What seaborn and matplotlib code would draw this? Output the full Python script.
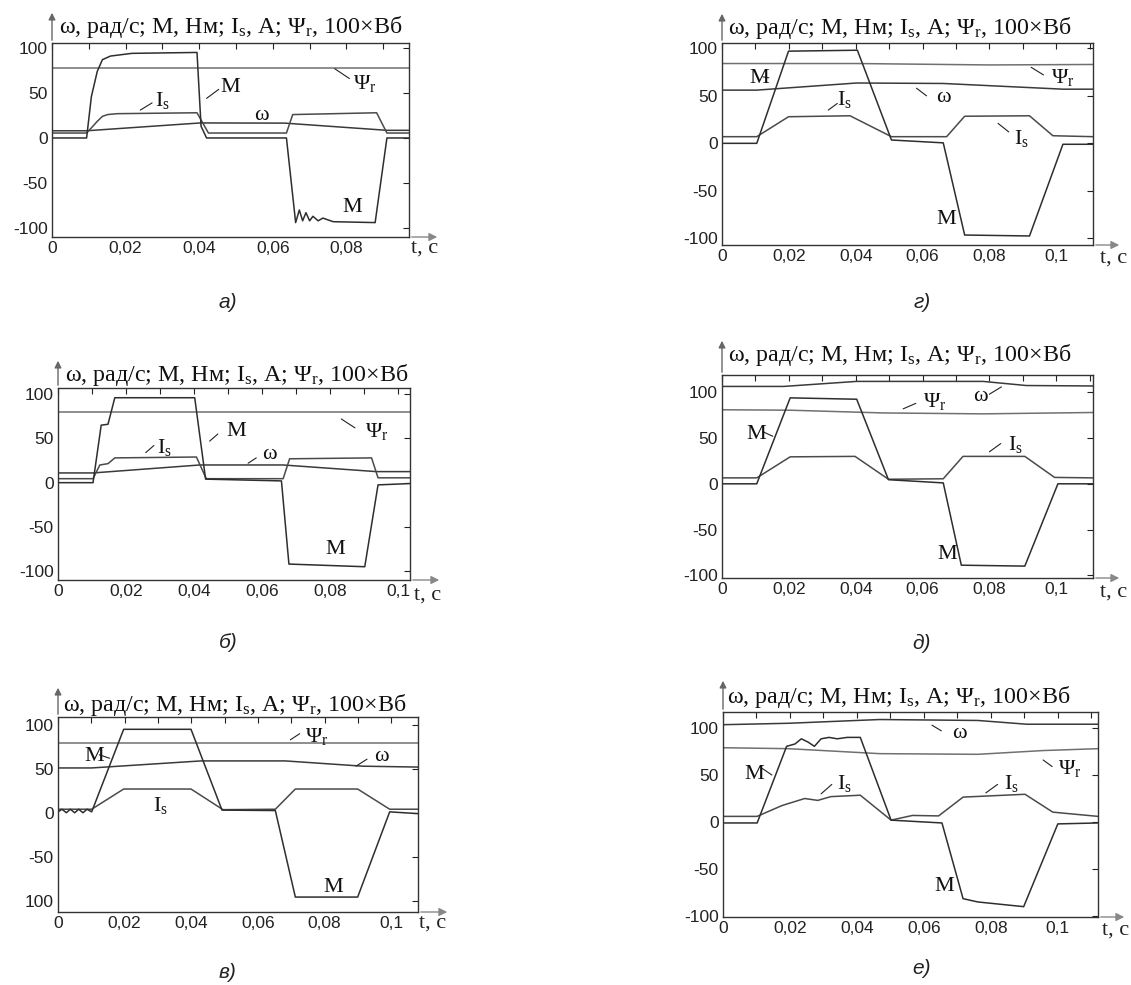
import matplotlib
matplotlib.use("Agg")
import matplotlib.pyplot as plt
from matplotlib.patches import FancyArrowPatch
import seaborn as sns

# ---------------- waveforms: time (s) and value ----------------
# а)
A_T_M = [0, 0.0094, 0.0107, 0.0123, 0.0137, 0.0159, 0.0217, 0.0394, 0.0405, 0.0420, 0.0637, 0.0662,
         0.0672, 0.0681, 0.0690, 0.0700, 0.0709, 0.0723, 0.0736, 0.0764, 0.0878, 0.0910, 0.0970]
A_M = [0, 0, 46, 74, 87, 91, 94, 95, 13, 0, 0, -94, -80, -92, -83, -92, -87, -92, -89, -93, -94, 0, 0]
A_T_IS = [0, 0.0094, 0.0111, 0.0123, 0.0137, 0.0151, 0.0178, 0.0394, 0.0425, 0.0637, 0.0654, 0.0882, 0.0910, 0.0970]
A_IS = [5.5, 5.5, 13, 18.5, 24, 26, 27, 28, 5.5, 5.5, 26, 28, 5.5, 5.5]
A_T_W = [0, 0.0094, 0.0403, 0.0632, 0.0910, 0.0970]
A_W = [8, 8, 16.7, 16.5, 8.5, 8.5]
A_T_PSI = [0, 0.0970]
A_PSI = [78, 78]

# г)
G_T_M = [0, 0.0104, 0.0199, 0.0405, 0.0507, 0.0662, 0.0726, 0.0920, 0.1020, 0.1110]
G_M = [0, 0, 97, 98, 3.5, 0.5, -96.5, -97.5, -1, -1]
G_T_IS = [0, 0.0104, 0.0199, 0.0383, 0.0507, 0.0672, 0.0726, 0.0920, 0.0990, 0.1110]
G_IS = [7, 7, 28, 29, 7, 7, 28.5, 29, 8, 7]
G_T_W = [0, 0.0104, 0.0403, 0.0662, 0.1020, 0.1110]
G_W = [56, 56, 63.5, 63, 57, 57]
G_T_PSI = [0, 0.0400, 0.0800, 0.1110]
G_PSI = [84, 84, 82.5, 83]

# б)
B_T_M = [0, 0.0103, 0.0127, 0.0147, 0.0167, 0.0402, 0.0434, 0.0657, 0.0679, 0.0902, 0.0941, 0.1035]
B_M = [0, 0, 65, 66, 96, 96, 4, 2, -92, -95, -2.5, -1]
B_T_IS = [0, 0.0103, 0.0123, 0.0147, 0.0167, 0.0407, 0.0436, 0.0662, 0.0681, 0.0922, 0.0941, 0.1035]
B_IS = [4.5, 4.5, 20, 21.5, 28, 29, 4.5, 4.5, 27, 28, 5.5, 5.5]
B_T_W = [0, 0.0103, 0.0417, 0.0662, 0.0936, 0.1035]
B_W = [11, 11, 20, 20, 12.5, 12.5]
B_T_PSI = [0, 0.1035]
B_PSI = [80, 80]

# д)
D_T_M = [0, 0.0104, 0.0204, 0.0403, 0.0498, 0.0662, 0.0716, 0.0906, 0.1005, 0.1110]
D_M = [0, 0, 94, 92.5, 4.5, 1, -89, -90, 0, 0]
D_T_IS = [0, 0.0104, 0.0204, 0.0398, 0.0498, 0.0662, 0.0721, 0.0906, 0.0995, 0.1110]
D_IS = [6.5, 6.5, 29.5, 30, 5, 5.5, 30, 30, 7, 6.5]
D_T_W = [0, 0.0184, 0.0403, 0.0781, 0.0910, 0.1110]
D_W = [106.5, 106.5, 112, 112, 107.5, 107]
D_T_PSI = [0, 0.0204, 0.0483, 0.0781, 0.1110]
D_PSI = [81, 80.5, 77.5, 76.5, 78]

# в)
V_T_M = [0, 0.0012, 0.0025, 0.0037, 0.0050, 0.0062, 0.0075, 0.0087, 0.0101, 0.0197, 0.0399,
         0.0492, 0.0652, 0.0712, 0.0899, 0.0995, 0.1080]
V_M = [1, 4, 0, 4, 0, 4, 0, 4, 1, 95, 95, 3, 2.5, -96, -96, 1, -1]
V_T_IS = [0, 0.0101, 0.0197, 0.0399, 0.0495, 0.0652, 0.0712, 0.0899, 0.0995, 0.1080]
V_IS = [4, 4, 27, 27, 3.5, 4, 27, 27, 4, 4]
V_T_W = [0, 0.0101, 0.0429, 0.0682, 0.0914, 0.1080]
V_W = [51, 51, 59, 59, 53, 52]
V_T_PSI = [0, 0.1080]
V_PSI = [79, 79]

# е)
E_T_M = [0, 0.0102, 0.0190, 0.0215, 0.0234, 0.0254, 0.0273, 0.0293, 0.0317, 0.0341, 0.0371, 0.0410,
         0.0502, 0.0654, 0.0717, 0.0761, 0.0898, 0.1000, 0.1120]
E_M = [-1, -1, 80.5, 83, 88.5, 85, 80.5, 88.5, 90, 88.5, 90, 90, 2, -1, -81.5, -85, -90, -2, -1]
E_T_IS = [0, 0.0102, 0.0176, 0.0244, 0.0283, 0.0322, 0.0410, 0.0502, 0.0566, 0.0644, 0.0717, 0.0902, 0.0985, 0.1120]
E_IS = [6, 6, 17.5, 25, 23, 27, 28.5, 2, 7, 6.5, 26.5, 29.5, 10.5, 6]
E_T_W = [0, 0.0195, 0.0468, 0.0761, 0.0907, 0.1120]
E_W = [103.5, 105, 109, 108, 104, 104]
E_T_PSI = [0, 0.0195, 0.0468, 0.0761, 0.0956, 0.1120]
E_PSI = [79, 78, 72.7, 72, 76, 78]

Y_TICKS = [-100, -50, 0, 50, 100]
Y_LABELS = ["-100", "-50", "0", "50", "100"]
Y_LABELS_V = ["100", "-50", "0", "50", "100"]
X_TICKS_SHORT = [0, 0.02, 0.04, 0.06, 0.08]
X_TICKS_LONG = [0, 0.02, 0.04, 0.06, 0.08, 0.1]
X_LABELS_SHORT = ["0", "0,02", "0,04", "0,06", "0,08"]
X_LABELS_LONG = ["0", "0,02", "0,04", "0,06", "0,08", "0,1"]
X_MINOR = [0.01, 0.03, 0.05, 0.07, 0.09, 0.11]

# ---------------- style ----------------
sns.set_theme(style="white")
plt.rcParams["font.family"] = ["Liberation Sans", "DejaVu Sans"]
plt.rcParams["mathtext.fontset"] = "custom"
plt.rcParams["mathtext.rm"] = "Liberation Serif"
plt.rcParams["mathtext.it"] = "Liberation Serif:italic"
plt.rcParams["mathtext.bf"] = "Liberation Serif:bold"

SERIF = ["Liberation Serif", "DejaVu Serif"]
IS = r"$\mathrm{I}_\mathrm{s}$"
PSI = r"$\Psi_\mathrm{r}$"
TITLE = "ω, рад/с; M, Нм; " + IS + ", A; " + PSI + ", 100×Вб"

W, H = 1131, 985
fig = plt.figure(figsize=(W / 100, H / 100), dpi=100)
fig.patch.set_facecolor("white")


def px(x, y):
    return x / W, 1 - y / H


C_M, C_IS, C_W, C_PSI = "#2e2e2e", "#4a4a4a", "#3a3a3a", "#707070"

panels = [
    dict(box=(52, 43, 409, 237), xlim=0.097, ylim=(-110, 105.5), xt=X_TICKS_SHORT, xl=X_LABELS_SHORT,
         yl=Y_LABELS, title=(59, 27), arrow_top=10, xarrow=440, tc=(425, 248), cap=("а)", 228, 303),
         series=[(A_T_PSI, A_PSI, C_PSI), (A_T_W, A_W, C_W), (A_T_IS, A_IS, C_IS), (A_T_M, A_M, C_M)],
         labels=[(PSI, 0.0818, 60, (0.0768, 77), (0.0808, 66)),
                 ("M", 0.0458, 56, (0.0420, 44), (0.0453, 54)),
                 (IS, 0.0280, 42, (0.0240, 31), (0.0272, 39)),
                 ("ω", 0.0548, 25, None, None),
                 ("M", 0.0790, -77, None, None)]),
    dict(box=(722, 43, 1093, 245), xlim=0.111, ylim=(-107, 105.6), xt=X_TICKS_LONG, xl=X_LABELS_LONG,
         yl=Y_LABELS, title=(728, 28), arrow_top=11, xarrow=1122, tc=(1114, 258), cap=("г)", 922, 303),
         series=[(G_T_PSI, G_PSI, C_PSI), (G_T_W, G_W, C_W), (G_T_IS, G_IS, C_IS), (G_T_M, G_M, C_M)],
         labels=[("M", 0.0082, 68, (0.0122, 70), (0.0140, 69)),
                 (PSI, 0.0985, 69, (0.0925, 80), (0.0962, 72)),
                 ("ω", 0.0640, 48, (0.0582, 58), (0.0612, 50)),
                 (IS, 0.0345, 46, (0.0318, 35), (0.0345, 42)),
                 (IS, 0.0875, 5, (0.0826, 21), (0.0858, 12)),
                 ("M", 0.0640, -80, None, None)]),
    dict(box=(58, 388, 410, 580), xlim=0.1035, ylim=(-110, 107), xt=X_TICKS_LONG, xl=X_LABELS_LONG,
         yl=Y_LABELS, title=(65, 375), arrow_top=358, xarrow=442, tc=(428, 595), cap=("б)", 228, 643),
         series=[(B_T_PSI, B_PSI, C_PSI), (B_T_W, B_W, C_W), (B_T_IS, B_IS, C_IS), (B_T_M, B_M, C_M)],
         labels=[(PSI, 0.0903, 58, (0.0833, 72), (0.0873, 62)),
                 ("M", 0.0495, 58, (0.0446, 47), (0.0470, 55)),
                 (IS, 0.0290, 40, (0.0258, 34), (0.0282, 42)),
                 ("ω", 0.0600, 32, (0.0559, 22), (0.0583, 28)),
                 ("M", 0.0785, -75, None, None)]),
    dict(box=(722, 375, 1093, 578), xlim=0.111, ylim=(-103, 119), xt=X_TICKS_LONG, xl=X_LABELS_LONG,
         yl=Y_LABELS, title=(728, 355), arrow_top=338, xarrow=1122, tc=(1114, 592), cap=("д)", 922, 643),
         series=[(D_T_PSI, D_PSI, C_PSI), (D_T_W, D_W, C_W), (D_T_IS, D_IS, C_IS), (D_T_M, D_M, C_M)],
         labels=[(PSI, 0.0600, 90, (0.0542, 82), (0.0580, 88)),
                 ("ω", 0.0752, 96, (0.0800, 98), (0.0836, 106)),
                 ("M", 0.0072, 54, (0.0122, 57), (0.0152, 52)),
                 (IS, 0.0857, 43, (0.0800, 35), (0.0834, 44)),
                 ("M", 0.0645, -77, None, None)]),
    dict(box=(58, 717, 418, 912), xlim=0.108, ylim=(-113, 109), xt=X_TICKS_LONG, xl=X_LABELS_LONG,
         yl=Y_LABELS_V, title=(63, 705), arrow_top=685, xarrow=450, tc=(433, 923), cap=("в)", 228, 972),
         series=[(V_T_PSI, V_PSI, C_PSI), (V_T_W, V_W, C_W), (V_T_IS, V_IS, C_IS), (V_T_M, V_M, C_M)],
         labels=[(PSI, 0.0740, 87, (0.0697, 83), (0.0725, 90)),
                 ("M", 0.0080, 64, (0.0124, 66), (0.0155, 62)),
                 ("ω", 0.0948, 64, (0.0894, 53), (0.0927, 61)),
                 (IS, 0.0285, 8, None, None),
                 ("M", 0.0795, -85, None, None)]),
    dict(box=(723, 712, 1098, 917), xlim=0.112, ylim=(-101, 117), xt=X_TICKS_LONG, xl=X_LABELS_LONG,
         yl=Y_LABELS, title=(727, 697), arrow_top=678, xarrow=1127, tc=(1116, 930), cap=("е)", 922, 968),
         series=[(E_T_PSI, E_PSI, C_PSI), (E_T_W, E_W, C_W), (E_T_IS, E_IS, C_IS), (E_T_M, E_M, C_M)],
         labels=[("ω", 0.0685, 94, (0.0624, 103), (0.0652, 97)),
                 (PSI, 0.1000, 57, (0.0956, 66), (0.0983, 59)),
                 ("M", 0.0065, 51, (0.0117, 57), (0.0146, 50)),
                 (IS, 0.0340, 41, (0.0293, 30), (0.0325, 40)),
                 (IS, 0.0838, 41, (0.0785, 31), (0.0820, 40)),
                 ("M", 0.0630, -69, None, None)]),
]

for p in panels:
    l, t, r, b = p["box"]
    ax = fig.add_axes([l / W, 1 - b / H, (r - l) / W, (b - t) / H])
    ax.set_facecolor("white")
    for xs, ys, col in p["series"]:
        sns.lineplot(x=xs, y=ys, ax=ax, color=col, lw=1.1, sort=False, estimator=None)
    ax.set_xlim(0, p["xlim"])
    ax.set_ylim(*p["ylim"])
    ax.set_xticks(p["xt"])
    ax.set_xticklabels(p["xl"])
    ax.set_xticks([m for m in X_MINOR if m < p["xlim"]], minor=True)
    ax.set_yticks(Y_TICKS)
    ax.set_yticklabels(p["yl"])
    ax.tick_params(which="both", direction="in", length=4, width=0.8, top=True, right=True,
                   labelsize=12.5, pad=3, colors="#222222")
    for s in ax.spines.values():
        s.set_color("#333333")
        s.set_linewidth(1.0)
    ax.set_xlabel("")
    ax.set_ylabel("")

    # series labels with leader lines
    for txt, tx, ty, a0, a1 in p["labels"]:
        ax.text(tx, ty, txt, fontsize=16, family=SERIF, ha="left", va="center", color="#111111")
        if a0 is not None:
            ax.plot([a0[0], a1[0]], [a0[1], a1[1]], color="#222222", lw=0.8)

    # axis arrows
    x0, y0 = px(l, b)
    xr, _ = px(r, b)
    x1, _ = px(p["xarrow"], b)
    fig.add_artist(FancyArrowPatch((xr, y0), (x1, y0), transform=fig.transFigure, arrowstyle="-|>",
                                   mutation_scale=12, color="#888888", lw=1.0))
    _, yt = px(l, p["arrow_top"])
    _, ytop = px(l, t)
    fig.add_artist(FancyArrowPatch((x0, ytop), (x0, yt), transform=fig.transFigure, arrowstyle="-|>",
                                   mutation_scale=10, color="#666666", lw=1.0))

    # quantity header
    hx, hy = px(*p["title"])
    fig.text(hx, hy, TITLE, fontsize=17.3, family=SERIF, ha="left", va="center", color="#111111")

    # time axis name
    tx_, ty_ = px(*p["tc"])
    fig.text(tx_, ty_, "t, c", fontsize=16, family=SERIF, ha="center", va="center", color="#222222")

    # panel caption
    cs, cx, cy = p["cap"]
    fx, fy = px(cx, cy)
    fig.text(fx, fy, cs, fontsize=15, style="italic", ha="center", va="center", color="#222222")

fig.savefig("out.png", dpi=100, facecolor="white")
